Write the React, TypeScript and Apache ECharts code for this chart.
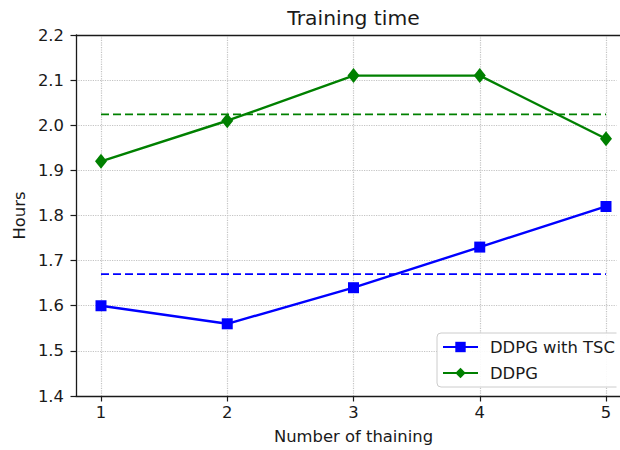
import React, { useEffect, useRef } from "react";
import * as echarts from "echarts";

// Training runs and the hours each one took
const runs = [1, 2, 3, 4, 5];
const withTscHours = [1.6, 1.56, 1.64, 1.73, 1.82];
const ddpgHours = [1.92, 2.01, 2.11, 2.11, 1.97];
const seriesNames = ["DDPG with TSC", "DDPG"];

const FONT = "DejaVu Sans";
const INK = "#1a1a1a";
const GRID = "#c4c4c4";
const BLUE = "#0000ff";
const GREEN = "#008000";
const FS = 16.4;

const mean = (a: number[]) => a.reduce((s, v) => s + v, 0) / a.length;
const pairs = (ys: number[]) => runs.map((x, i) => [x, ys[i]]);

export default function App() {
  const ref = useRef<HTMLDivElement>(null);

  useEffect(() => {
    if (!ref.current) return;
    const chart = echarts.init(ref.current, undefined, { renderer: "svg" });
    const W = 650;
    const plotLeft = 76;
    const plotRight = 631;
    const tickFirst = 101;
    const tickLast = 606;
    const top = 35;
    const bottom = 54;

    const spine = { show: true, lineStyle: { color: INK, width: 1.3 } };
    const tickLabel = { color: INK, fontSize: FS, fontFamily: FONT };
    const dotted = { show: true, lineStyle: { color: GRID, type: "dotted" as const, width: 1.2 } };

    chart.setOption({
      animation: false,
      backgroundColor: "#ffffff",
      title: {
        text: "Training time",
        left: (plotLeft + plotRight) / 2 - 5,
        textAlign: "center",
        top: 3,
        textStyle: { color: INK, fontSize: 20.3, fontWeight: "normal", fontFamily: FONT },
      },
      legend: {
        data: seriesNames,
        orient: "vertical",
        left: 437,
        top: 333,
        itemWidth: 35,
        itemHeight: 13,
        itemGap: 10,
        padding: [6, 16, 6, 5],
        backgroundColor: "rgba(255,255,255,0.9)",
        borderColor: "#cccccc",
        borderWidth: 1,
        borderRadius: 4,
        textStyle: { color: INK, fontSize: FS, fontFamily: FONT, padding: [0, 0, 0, 7] },
      },
      // the plot continues past the right edge of the view; mask its far border
      graphic: [
        {
          type: "rect",
          shape: { x: 616.5, y: 37, width: 40, height: 357 },
          style: { fill: "#ffffff" },
          z: 100,
        },
      ],
      grid: [
        { left: plotLeft, right: W - plotRight, top, bottom, containLabel: false, outerBoundsMode: "none" },
        { left: tickFirst, right: W - tickLast, top, bottom, containLabel: false, outerBoundsMode: "none" },
      ],
      xAxis: [
        {
          gridIndex: 0,
          type: "value",
          min: 0.8,
          max: 5.2,
          position: "bottom",
          axisLine: spine,
          axisTick: { show: false },
          axisLabel: { show: false },
          splitLine: { show: false },
          name: "Number of thaining",
          nameLocation: "middle",
          nameGap: 32,
          nameTextStyle: { color: INK, fontSize: FS, fontFamily: FONT },
        },
        {
          gridIndex: 0,
          type: "value",
          min: 0.8,
          max: 5.2,
          position: "top",
          axisLine: spine,
          axisTick: { show: false },
          axisLabel: { show: false },
          splitLine: { show: false },
        },
        {
          gridIndex: 1,
          type: "value",
          min: 1,
          max: 5,
          interval: 1,
          position: "bottom",
          axisLine: { show: false },
          axisTick: { show: true, inside: false, length: 5.5, lineStyle: { color: INK, width: 1.2 } },
          axisLabel: { ...tickLabel, margin: 8 },
          splitLine: dotted,
        },
      ],
      yAxis: [
        {
          gridIndex: 0,
          type: "value",
          min: 1.4,
          max: 2.2,
          interval: 0.1,
          position: "left",
          axisLine: spine,
          axisTick: { show: true, inside: false, length: 5.5, lineStyle: { color: INK, width: 1.2 } },
          axisLabel: {
            ...tickLabel,
            margin: 12,
            formatter: (v: number) => v.toFixed(1),
          },
          splitLine: dotted,
          name: "Hours",
          nameLocation: "middle",
          nameGap: 45,
          nameTextStyle: { color: INK, fontSize: FS, fontFamily: FONT },
        },
        { gridIndex: 1, type: "value", min: 1.4, max: 2.2, show: false },
      ],
      series: [
        {
          name: seriesNames[0],
          type: "line",
          xAxisIndex: 2,
          yAxisIndex: 1,
          data: pairs(withTscHours),
          symbol: "rect",
          symbolSize: 11,
          itemStyle: { color: BLUE },
          lineStyle: { color: BLUE, width: 2.4 },
          z: 3,
        },
        {
          name: seriesNames[1],
          type: "line",
          xAxisIndex: 2,
          yAxisIndex: 1,
          data: pairs(ddpgHours),
          symbol: "diamond",
          symbolSize: [12, 15],
          itemStyle: { color: GREEN },
          lineStyle: { color: GREEN, width: 2.4 },
          z: 3,
        },
        {
          name: "mean-tsc",
          type: "line",
          xAxisIndex: 2,
          yAxisIndex: 1,
          data: [
            [runs[0], mean(withTscHours)],
            [runs[runs.length - 1], mean(withTscHours)],
          ],
          symbol: "none",
          lineStyle: { color: BLUE, width: 1.8, type: [8, 4] },
          z: 2,
        },
        {
          name: "mean-ddpg",
          type: "line",
          xAxisIndex: 2,
          yAxisIndex: 1,
          data: [
            [runs[0], mean(ddpgHours)],
            [runs[runs.length - 1], mean(ddpgHours)],
          ],
          symbol: "none",
          lineStyle: { color: GREEN, width: 1.8, type: [8, 4] },
          z: 2,
        },
      ],
    });
    return () => chart.dispose();
  }, []);

  return (
    <div
      style={{
        position: "fixed",
        left: 0,
        top: 0,
        width: 620,
        height: 450,
        overflow: "hidden",
        background: "#fff",
      }}
    >
      <div ref={ref} style={{ width: 650, height: 450 }} />
    </div>
  );
}
